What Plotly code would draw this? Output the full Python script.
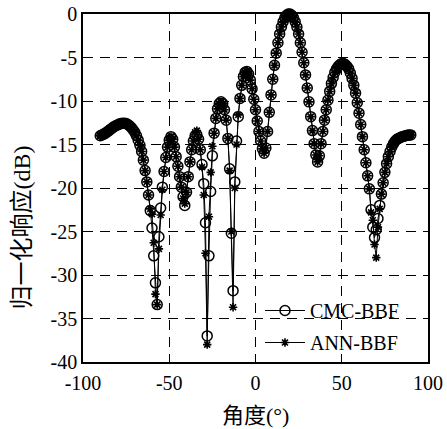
import plotly.graph_objects as go

angles = list(range(-90, 91))

cmc_bbf = [
    -14.0, -13.9, -13.8, -13.7, -13.55, -13.4, -13.25, -13.1, -12.95, -12.85,   # -90..-81
    -12.75, -12.65, -12.6, -12.55, -12.55, -12.6, -12.7, -12.85, -13.05, -13.3,  # -80..-71
    -13.6, -14.0, -14.5, -15.1, -15.8, -16.8, -18.0, -19.3, -20.8, -22.6,        # -70..-61
    -24.6, -27.8, -30.9, -33.4, -25.6, -22.3, -19.9, -18.1, -16.5, -15.3,        # -60..-51
    -14.5, -14.1, -14.4, -15.3, -16.4, -17.5, -18.7, -19.9, -21.0, -22.0,        # -50..-41
    -20.5, -18.7, -17.0, -15.6, -14.6, -14.0, -13.9, -14.4, -15.6, -17.3,        # -40..-31
    -19.5, -24.0, -37.0, -27.8, -20.4, -16.3, -13.7, -12.0, -10.9, -10.3,        # -30..-21
    -10.1, -10.3, -11.0, -12.2, -14.3, -17.8, -25.2, -31.8, -19.3, -14.6,        # -20..-11
    -11.8, -9.7, -8.2, -7.2, -6.7, -6.6, -6.9, -7.6, -8.6, -9.8,                 # -10..-1
    -11.0, -12.3, -13.5, -14.6, -15.5, -16.0, -15.4, -13.5, -11.3, -9.3,         # 0..9
    -7.5, -5.9, -4.5, -3.3, -2.3, -1.5, -0.9, -0.45, -0.15, 0.0,                 # 10..19
    0.0, -0.15, -0.45, -0.9, -1.5, -2.3, -3.3, -4.4, -5.6, -7.0,                 # 20..29
    -8.5, -10.1, -11.8, -13.4, -14.9, -16.2, -17.0, -16.3, -14.9, -13.5,         # 30..39
    -12.2, -11.0, -9.9, -8.9, -8.0, -7.3, -6.7, -6.3, -6.0, -5.8,                # 40..49
    -5.7, -5.7, -5.8, -6.0, -6.3, -6.8, -7.4, -8.2, -9.1, -10.2,                 # 50..59
    -11.4, -12.7, -14.1, -15.6, -17.1, -18.6, -20.1, -22.5, -24.5, -25.7,        # 60..69
    -24.8, -23.5, -22.0, -20.7, -19.4, -18.2, -17.2, -16.4, -15.8, -15.3,        # 70..79
    -14.9, -14.6, -14.4, -14.3, -14.2, -14.1, -14.05, -14.0, -13.95, -13.9,      # 80..89
    -13.9,                                                                        # 90
]

ann_bbf = [
    -14.0, -13.9, -13.8, -13.7, -13.55, -13.4, -13.25, -13.1, -12.95, -12.85,   # -90..-81
    -12.75, -12.65, -12.6, -12.55, -12.55, -12.6, -12.7, -12.85, -13.05, -13.3,  # -80..-71
    -13.6, -14.0, -14.5, -15.1, -15.8, -16.8, -18.0, -19.3, -20.8, -22.4,        # -70..-61
    -23.0, -26.3, -32.2, -33.4, -27.0, -23.1, -20.2, -18.1, -16.5, -15.3,        # -60..-51
    -14.5, -14.1, -14.4, -15.3, -16.4, -17.5, -18.7, -19.9, -21.2, -21.8,        # -50..-41
    -20.5, -18.7, -17.0, -15.6, -14.6, -13.6, -13.4, -14.4, -15.6, -17.6,        # -40..-31
    -20.8, -27.5, -38.0, -23.3, -18.2, -15.2, -13.7, -12.0, -10.9, -10.3,        # -30..-21
    -10.1, -10.3, -11.0, -12.2, -14.3, -18.0, -25.0, -33.7, -20.0, -15.0,        # -20..-11
    -11.6, -9.7, -8.2, -7.2, -6.7, -6.6, -6.9, -7.6, -8.6, -9.8,                 # -10..-1
    -11.0, -12.3, -13.5, -14.6, -15.5, -16.0, -15.4, -13.5, -11.3, -9.3,         # 0..9
    -7.5, -5.9, -4.5, -3.3, -2.3, -1.5, -0.9, -0.45, -0.15, 0.0,                 # 10..19
    0.0, -0.15, -0.45, -0.9, -1.5, -2.3, -3.3, -4.4, -5.6, -7.0,                 # 20..29
    -8.5, -10.1, -11.8, -13.4, -14.9, -16.2, -17.0, -16.3, -14.9, -13.5,         # 30..39
    -12.2, -11.0, -9.9, -8.9, -8.0, -7.3, -6.7, -6.3, -6.0, -5.8,                # 40..49
    -5.7, -5.7, -5.8, -6.0, -6.3, -6.8, -7.4, -8.2, -9.1, -10.2,                 # 50..59
    -11.4, -12.7, -14.1, -15.6, -17.1, -18.6, -20.1, -22.8, -23.7, -26.5,        # 60..69
    -28.0, -24.5, -22.4, -20.7, -19.4, -18.2, -17.2, -16.4, -15.8, -15.3,        # 70..79
    -14.9, -14.6, -14.4, -14.3, -14.2, -14.1, -14.05, -14.0, -13.95, -13.9,      # 80..89
    -13.9,                                                                        # 90
]

x_ticks = [-100, -50, 0, 50, 100]
x_tick_labels = ["-100", "-50", "0", "50", "100"]
y_ticks = [0, -5, -10, -15, -20, -25, -30, -35, -40]
y_tick_labels = ["0", "-5", "-10", "-15", "-20", "-25", "-30", "-35", "-40"]

serif = "Liberation Serif, Noto Sans CJK SC"

fig = go.Figure()
fig.add_trace(go.Scatter(
    x=angles, y=cmc_bbf, mode="lines+markers", name="CMC-BBF",
    line=dict(color="black", width=1),
    marker=dict(symbol="circle-open", size=10, color="black", line=dict(width=1.5, color="black")),
    cliponaxis=False, legendgroup="a",
))
fig.add_trace(go.Scatter(
    x=angles, y=ann_bbf, mode="lines+markers", name="ANN-BBF",
    line=dict(color="black", width=1),
    marker=dict(symbol="asterisk-open", size=7, color="black", line=dict(width=1.6, color="black")),
    cliponaxis=False, legendgroup="b",
))

grid_dash = "10px,7px"
axis_common = dict(
    showgrid=True, gridcolor="black", gridwidth=1, griddash=grid_dash,
    zeroline=False, showline=True, linecolor="black", linewidth=1.5, mirror=True,
    ticks="inside", ticklen=4, tickcolor="black", automargin=False,
    tickfont=dict(family="Liberation Serif", size=20, color="black"),
)
fig.update_layout(
    width=447, height=429,
    margin=dict(l=83, r=19, t=14, b=67),
    paper_bgcolor="white", plot_bgcolor="white",
    font=dict(family=serif, size=19, color="black"),
    showlegend=True,
    legend=dict(
        x=0.513, y=0.204, xanchor="left", yanchor="top",
        bgcolor="rgba(0,0,0,0)", borderwidth=0,
        font=dict(family="Liberation Serif", size=20, color="black"),
        tracegroupgap=3, itemwidth=40,
    ),
    xaxis=dict(range=[-100, 100], tickvals=x_ticks, ticktext=x_tick_labels,
               ticklabelstandoff=2, **axis_common),
    yaxis=dict(range=[-40, 0], tickvals=y_ticks, ticktext=y_tick_labels, **axis_common),
    annotations=[
        dict(text="归一化响应(dB)", xref="paper", yref="paper", x=-0.178, y=0.385,
             xanchor="center", yanchor="middle", textangle=-90, showarrow=False,
             font=dict(family=serif, size=24, color="black")),
        dict(text="角度(°)", xref="paper", yref="paper", x=0.5, y=-0.153,
             xanchor="center", yanchor="middle", showarrow=False,
             font=dict(family=serif, size=22, color="black")),
    ],
)

fig.write_html("out.html")
